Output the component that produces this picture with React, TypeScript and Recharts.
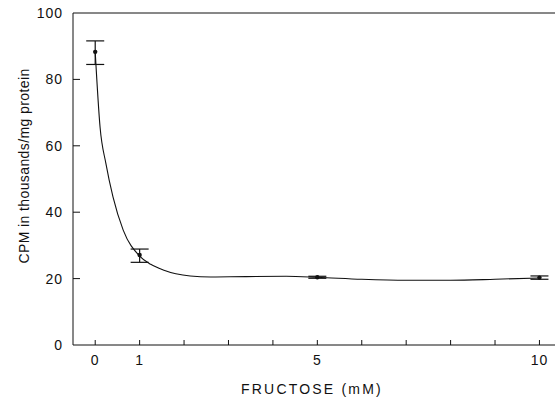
import { ComposedChart, Line, Scatter, ErrorBar, XAxis, YAxis, ReferenceLine } from 'recharts';

// measured points (mean, error)
const DOSE = [0, 1, 5, 10];
const CPM = [88.3, 27.1, 20.4, 20.3];
const ERR = [[3.8, 3.3], [2.2, 1.8], [0.3, 0.3], [0.5, 0.5]];

// fitted curve
const CURVE_X = [0, 0.11, 0.24, 0.4, 0.63, 1, 1.25, 1.53, 2.14, 2.6, 3.4, 4.3, 5, 6, 7, 8, 9, 10];
const CURVE_Y = [88.3, 65.5, 54.7, 44.6, 34.6, 26.8, 24.3, 22.6, 20.8, 20.5, 20.6, 20.7, 20.4, 19.8, 19.5, 19.5, 19.8, 20.2];

const X_TICKS = [0, 1, 2, 3, 4, 5, 6, 7, 8, 9, 10];
const X_LABELS = [0, 1, 5, 10];
const Y_TICKS = [0, 20, 40, 60, 80, 100];

const points = DOSE.map((x, i) => ({ x, y: CPM[i], err: ERR[i] }));
const curve = CURVE_X.map((x, i) => ({ x, y: CURVE_Y[i] }));

const FONT = '"Liberation Sans", Arial, sans-serif';
const INK = '#111';

// eslint-disable-next-line @typescript-eslint/no-explicit-any
const XTick = ({ x, y, payload }: any) => (
  <g>
    <line x1={x} y1={y} x2={x} y2={y - 5} stroke={INK} strokeWidth={1} />
    {X_LABELS.includes(payload.value) && (
      <text x={x} y={y + 20} textAnchor="middle" fontSize={14} letterSpacing={1} fill={INK} fontFamily={FONT}>
        {payload.value}
      </text>
    )}
  </g>
);

// eslint-disable-next-line @typescript-eslint/no-explicit-any
const YTick = ({ x, y, payload }: any) => (
  <g>
    {payload.value > 0 && payload.value < 100 && (
      <line x1={x} y1={y} x2={x + 7} y2={y} stroke={INK} strokeWidth={1} />
    )}
    <text x={x - 10} y={y + 5} textAnchor="end" fontSize={14} letterSpacing={1} fill={INK} fontFamily={FONT}>
      {payload.value}
    </text>
  </g>
);

// eslint-disable-next-line @typescript-eslint/no-explicit-any
const YTitle = ({ viewBox }: any) => {
  const cx = 25;
  const cy = viewBox.y + viewBox.height / 2 - 13;
  return (
    <text x={cx} y={cy} transform={`rotate(-90, ${cx}, ${cy})`} textAnchor="middle" dominantBaseline="middle"
      fontSize={14} letterSpacing={0.4} fill={INK} fontFamily={FONT}>
      CPM in thousands/mg protein
    </text>
  );
};

// eslint-disable-next-line @typescript-eslint/no-explicit-any
const XTitle = ({ viewBox }: any) => (
  <text x={viewBox.x + viewBox.width / 2 - 2} y={394} textAnchor="middle" fontSize={14} letterSpacing={2.2}
    fill={INK} fontFamily={FONT}>
    FRUCTOSE (mM)
  </text>
);

export default function App() {
  return (
    <div style={{ position: 'absolute', left: 0, top: 0, width: 555, height: 398, background: '#fff' }}>
      <ComposedChart width={555} height={398} margin={{ top: 13, right: 0, bottom: 0, left: 0 }}>
        <XAxis type="number" dataKey="x" domain={[-0.5, 10.35]} ticks={X_TICKS} interval={0}
          allowDataOverflow height={53} tickSize={0} tickMargin={0} tick={<XTick />}
          axisLine={{ stroke: INK }} tickLine={false} label={<XTitle />} />
        <YAxis type="number" dataKey="y" domain={[0, 100]} ticks={Y_TICKS} interval={0} width={73}
          tickSize={0} tickMargin={0} tick={<YTick />} axisLine={{ stroke: INK }} tickLine={false}
          label={<YTitle />} />
        <ReferenceLine y={100} stroke={INK} strokeWidth={1} />
        <Line data={curve} dataKey="y" type="monotone" stroke={INK} strokeWidth={1.1} dot={false}
          isAnimationActive={false} />
        <Scatter data={points} dataKey="y" fill={INK} isAnimationActive={false}
          shape={(p: any) => <circle cx={p.cx} cy={p.cy} r={2.2} fill={INK} />}>
          <ErrorBar dataKey="err" direction="y" width={9} stroke={INK} strokeWidth={1.2} isAnimationActive={false} />
        </Scatter>
      </ComposedChart>
    </div>
  );
}
